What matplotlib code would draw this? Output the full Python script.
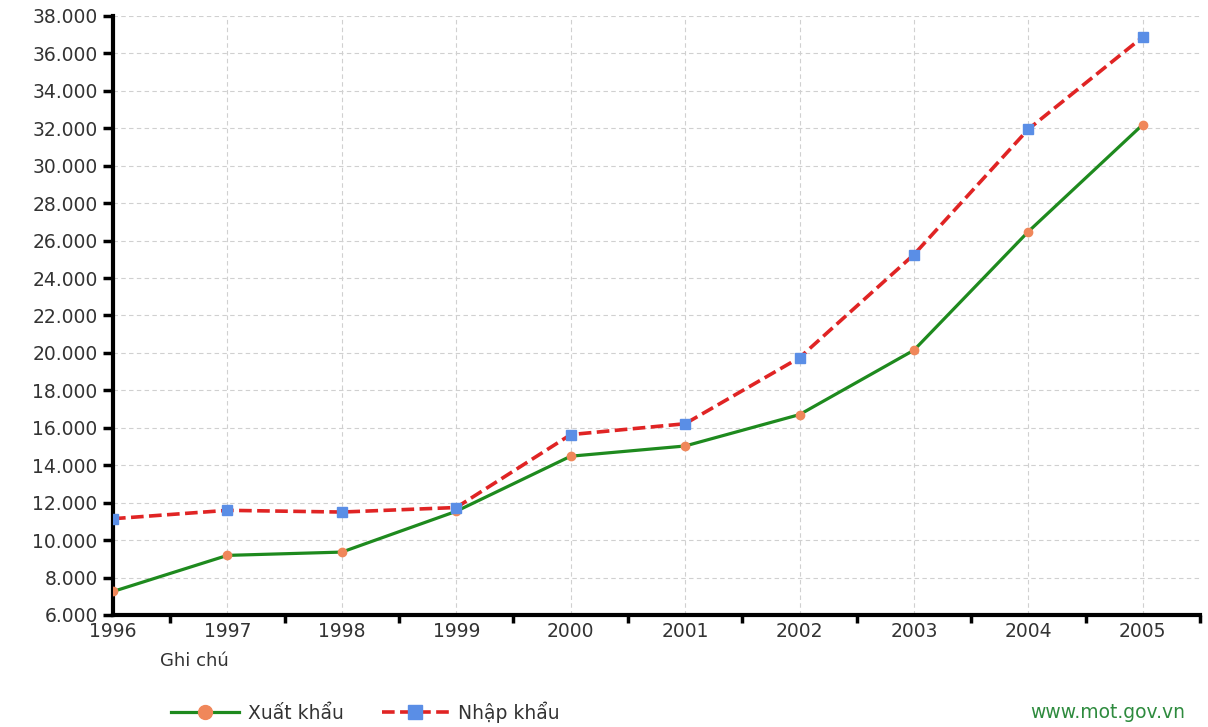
import matplotlib
matplotlib.use("Agg")
import matplotlib.pyplot as plt
from matplotlib.ticker import FixedLocator, FuncFormatter

years = [1996, 1997, 1998, 1999, 2000, 2001, 2002, 2003, 2004, 2005]
xuat_khau = [7256, 9185, 9361, 11541, 14483, 15029, 16706, 20149, 26485, 32200]
nhap_khau = [11144, 11592, 11500, 11742, 15637, 16218, 19746, 25256, 31954, 36881]
y_ticks = list(range(6000, 38001, 2000))

plt.rcParams['font.family'] = ['DejaVu Sans']

fig = plt.figure(figsize=(12.08, 7.27), dpi=100)
ax = fig.add_axes([113/1208, 1-615/727, (1200-113)/1208, (615-16)/727])

green = '#1e8a1e'
red = '#e02424'
orange = '#f0875a'
blue = '#5a8ee6'
fs = 13.5

l1, = ax.plot(years, xuat_khau, color=green, lw=2.3, marker='o', ms=6,
              mfc=orange, mec=orange, label='Xuất khẩu', zorder=3)
l2, = ax.plot(years, nhap_khau, color=red, lw=2.6, ls=(0, (3.5, 1.5)), marker='s', ms=6.5,
              mfc=blue, mec=blue, label='Nhập khẩu', zorder=4)

ax.set_xlim(1996, 2005.5)
ax.set_ylim(6000, 38000)

ax.set_yticks(y_ticks)
ax.yaxis.set_major_formatter(FuncFormatter(lambda v, p: f"{int(v):,}".replace(',', '.')))
ax.set_xticks(years)
ax.set_xticklabels([str(y) for y in years])
ax.xaxis.set_minor_locator(FixedLocator([y + 0.5 for y in years]))

ax.tick_params(axis='y', which='major', direction='out', length=7, width=2.5,
               labelsize=fs, labelcolor='#333333', pad=4)
ax.tick_params(axis='x', which='major', length=0, labelsize=fs, labelcolor='#333333', pad=5)
ax.tick_params(axis='x', which='minor', direction='out', length=6, width=2.5)

for s in ['top', 'right']:
    ax.spines[s].set_visible(False)
for s in ['left', 'bottom']:
    ax.spines[s].set_linewidth(3)
    ax.spines[s].set_color('black')

ax.grid(True, which='major', color='#d0d0d0', ls=(0, (4, 3)), lw=0.8)
ax.set_axisbelow(True)

fig.text(160/1208, 1-661/727, 'Ghi chú', fontsize=13, color='#333333', va='center', ha='left')

leg = fig.legend(handles=[l1, l2], loc='center left', bbox_to_anchor=(162/1208, 1-712/727),
                 ncol=2, frameon=False, fontsize=fs, handlelength=3.6, handletextpad=0.5,
                 columnspacing=2.0, borderpad=0)
for t in leg.get_texts():
    t.set_color('#333333')
for h in leg.legend_handles:
    h.set_markersize(10)

fig.text(1185/1208, 1-713/727, 'www.mot.gov.vn', fontsize=fs, color='#2e8b3e',
         va='center', ha='right')

fig.savefig('out.png', dpi=100)
